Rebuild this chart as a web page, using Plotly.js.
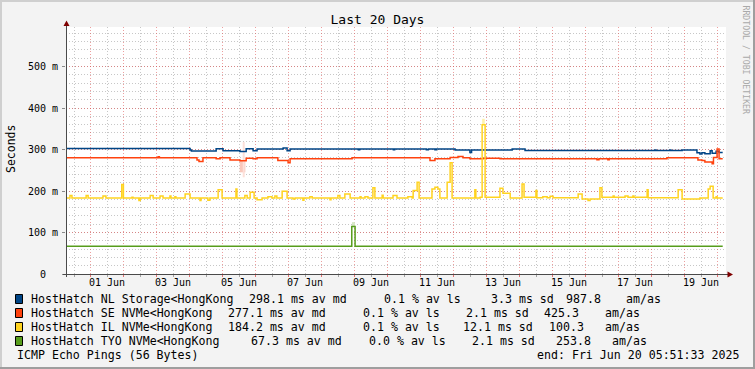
<!DOCTYPE html>
<html><head><meta charset="utf-8">
<script src="https://cdn.plot.ly/plotly-3.0.1.min.js"></script>
<style>html,body{margin:0;padding:0;background:#f3f3f3;overflow:hidden}#chart{width:755px;height:369px}</style>
</head><body><div id="chart"></div>
<script>
// ---------------- data (x = day of June 2025, fractional; y = milliseconds) ----------------
const seriesNames = ['HostHatch NL Storage<HongKong','HostHatch SE NVMe<HongKong','HostHatch IL NVMe<HongKong','HostHatch TYO NVMe<HongKong'];
const seriesColors = ['#004586','#ff420e','#ffd320','#579d1c'];
const avgMedian = [298.1, 277.1, 184.2, 67.3];
const avgLoss = [0.1, 0.1, 0.1, 0.0];
const stdDev = [3.3, 2.1, 12.1, 2.1];
const amAs = [987.8, 425.3, 100.3, 253.8];

const nlDays = [0.25,4.01,4.05,4.80,5.01,5.52,5.71,5.92,6.04,6.83,6.95,7.04,9.11,9.15,10.17,10.21,11.17,11.23,11.43,11.47,12.04,12.49,12.54,13.77,14.16,18.10,18.13,18.55,18.58,18.92,19.37,19.46,19.52,19.61,19.77,19.83,19.95,20.04,20.15];
const nlMs   = [302.5,299,296.5,302,297,295,302,297,301.5,303.5,297,301.5,299.5,301.5,299.5,301.5,299.5,301.5,299.5,301.5,299,293,299,301.5,297.5,299,297.5,299,297.5,299,292,289,292,290,297,291,296,293,293];

const seDays = [0.25,3.04,3.08,4.22,4.28,4.40,4.80,4.92,5.22,5.52,5.71,5.92,6.04,6.67,6.98,7.04,8.92,11.28,11.43,11.89,12.13,12.28,12.49,12.89,13.40,13.71,16.34,16.40,16.67,16.71,18.46,19.40,19.52,19.61,19.83,19.87,19.98,20.04,20.15];
const seMs   = [280,282.5,280,275,271,280,278,280,275,273,279,278,280,273.5,268,277.5,280,273.5,277.5,281,283,280,277.5,279,278,277.5,275.5,277.5,275.5,277.5,280,275,273.5,270,265.5,281,301.5,277.5,277.5];

const ilDays = [0.25,0.37,0.43,0.86,0.92,1.37,1.46,1.94,1.99,2.25,2.28,2.46,2.50,2.80,2.89,3.10,3.19,3.40,3.43,3.55,3.58,3.86,4.01,4.31,4.34,4.55,4.61,4.86,4.98,5.40,5.43,5.67,5.74,5.83,5.95,6.04,6.19,6.37,6.49,6.58,6.64,6.80,6.95,7.13,7.19,7.43,7.46,7.64,7.71,8.25,8.28,8.49,8.55,8.70,8.86,9.16,9.19,9.31,9.40,9.55,9.61,9.83,9.86,10.16,10.28,10.61,10.74,10.77,10.89,10.95,11.34,11.43,11.52,11.58,11.80,11.89,11.95,12.64,12.67,12.80,12.86,12.95,13.40,13.49,13.71,14.07,14.13,14.49,14.52,14.70,14.83,14.92,15.01,15.77,15.89,16.07,16.13,16.43,16.49,16.83,16.86,17.19,17.28,17.43,17.46,17.86,17.89,18.80,18.92,19.46,19.71,19.77,19.86,19.95,19.98,20.15];
const ilMs   = [183,189,183,189,183,188,183,215.7,183,185,183,177,183,189,183,188,183,188,183,186,183,193,183,177,183,178,183,203,183,205,183,189,183,197,183,179,183,186,183,188,183,199.5,183,181,183,178,183,186,183,179,183,189,183,193,183,186,183,186,183,207.7,183,190,183,189,183,186,183,201,221,183,205,209,205,183,221,268,183,203,183,185,359.5,185,206.7,194.7,183,217,185,201,184,186,184,187.5,184,193,181,177,181,207.7,185,188,185,188,185,188,185,203,184,203,181,183,205,211.6,183,186,183,183];

const tyoDays = [0.25,8.91,9.01,20.15];
const tyoMs   = [67,114.5,67,67];

// "smoke" (spread of the pings) patches: centre day, width in days, bottom ms, top ms
const smokeDay    = [5.60, 5.635, 12.90, 8.96];
const smokeWidth  = [0.17, 0.06, 0.08, 0.09];
const smokeLow    = [245, 233, 359, 114.5];
const smokeHigh   = [273, 318, 374, 125];
const smokeColor  = ['#f9c8bc', '#fde0d9', '#fff1ad', '#d6e8c6'];

const dayLabels   = ['01 Jun','03 Jun','05 Jun','07 Jun','09 Jun','11 Jun','13 Jun','15 Jun','17 Jun','19 Jun'];
const dayLabelAt  = [1.5,3.5,5.5,7.5,9.5,11.5,13.5,15.5,17.5,19.5];
const yTickVals   = [0,0.1,0.2,0.3,0.4,0.5];
const yTickText   = ['0\u00a0\u00a0','100 m','200 m','300 m','400 m','500 m'];
const titleText = 'Last 20 Days';
const footLeft = 'ICMP Echo Pings (56 Bytes)';
const footRight = 'end: Fri Jun 20 05:51:33 2025';
const watermark = 'RRDTOOL / TOBI OETIKER';

// ---------------- helpers ----------------
const MONO = 'DejaVu Sans Mono';
function dayToDate(d){ return new Date(Date.UTC(2025,4,31) + d*86400000).toISOString().replace('T',' ').slice(0,19); }
const W = 755, H = 369, L = 66, T = 27, PW = 660, PH = 247;
const PX = x => (x - L) / PW;
const PY = y => (T + PH - y) / PH;

const traces = [];
traces.push({
  type:'bar', x: smokeDay.map(dayToDate), y: smokeHigh.map((h,i)=>(h-smokeLow[i])/1000),
  base: smokeLow.map(v=>v/1000), width: smokeWidth.map(w=>w*86400000),
  marker:{color:smokeColor, line:{width:0}}, hoverinfo:'skip', showlegend:false
});
const sets = [[nlDays,nlMs],[seDays,seMs],[ilDays,ilMs],[tyoDays,tyoMs]];
sets.forEach((s,i)=>{
  traces.push({type:'scatter', mode:'lines', x:s[0].map(dayToDate), y:s[1].map(v=>v/1000),
    line:{shape:'hv', color:seriesColors[i], width:1.5}, hoverinfo:'skip', showlegend:false});
});

const shapes = [];
// frame shading
shapes.push({type:'rect', xref:'paper', yref:'paper', x0:PX(0), x1:PX(W), y0:PY(0), y1:PY(2), fillcolor:'#cfcfcf', line:{width:0}, layer:'above'});
shapes.push({type:'rect', xref:'paper', yref:'paper', x0:PX(0), x1:PX(2), y0:PY(0), y1:PY(H), fillcolor:'#cfcfcf', line:{width:0}, layer:'above'});
shapes.push({type:'rect', xref:'paper', yref:'paper', x0:PX(0), x1:PX(W), y0:PY(H-2), y1:PY(H), fillcolor:'#9e9e9e', line:{width:0}, layer:'above'});
shapes.push({type:'rect', xref:'paper', yref:'paper', x0:PX(W-2), x1:PX(W), y0:PY(0), y1:PY(H), fillcolor:'#9e9e9e', line:{width:0}, layer:'above'});
// axes
shapes.push({type:'line', xref:'paper', yref:'paper', x0:PX(66.5), x1:PX(66.5), y0:PY(277), y1:PY(24), line:{color:'#4a4a4a', width:1}, layer:'above'});
shapes.push({type:'line', xref:'paper', yref:'paper', x0:PX(63), x1:PX(729), y0:PY(274.5), y1:PY(274.5), line:{color:'#4a4a4a', width:1}, layer:'above'});
shapes.push({type:'path', xref:'paper', yref:'paper', path:`M ${PX(66.5)} ${PY(20.5)} L ${PX(63.5)} ${PY(26)} L ${PX(69.5)} ${PY(26)} Z`, fillcolor:'#7f0000', line:{width:0}, layer:'above'});
shapes.push({type:'path', xref:'paper', yref:'paper', path:`M ${PX(733)} ${PY(274.5)} L ${PX(727.5)} ${PY(271.5)} L ${PX(727.5)} ${PY(277.5)} Z`, fillcolor:'#7f0000', line:{width:0}, layer:'above'});

const annotations = [];
// x labels
dayLabels.forEach((t,i)=>annotations.push({xref:'x', yref:'paper', x:dayToDate(dayLabelAt[i]), y:PY(282.7), text:t, showarrow:false, xanchor:'center', yanchor:'middle', font:{family:MONO, size:10, color:'#000'}}));
// y title
annotations.push({xref:'paper', yref:'paper', x:PX(10.5), y:PY(149.5), text:'Seconds', textangle:-90, showarrow:false, xanchor:'center', yanchor:'middle', font:{family:MONO, size:11.5, color:'#000'}});
// watermark
annotations.push({xref:'paper', yref:'paper', x:PX(745.5), y:PY(60), text:watermark, textangle:90, showarrow:false, xanchor:'center', yanchor:'middle', font:{family:MONO, size:8.2, color:'#a9a9a9'}});

// legend
const rowY = [299, 313, 327, 341];
const colX = [
  [30.7, 249.3, 384.3, 491, 565.7, 625.7],
  [30.7, 228.3, 362.7, 465.7, 544.3, 605],
  [30.7, 228.3, 362.7, 463.3, 549, 605],
  [30.7, 250.7, 368.5, 472.3, 556, 612.3]
];
const LF = 11.6, PAD = 2;
seriesNames.forEach((n,i)=>{
  shapes.push({type:'rect', xref:'paper', yref:'paper', x0:PX(15.5), x1:PX(22.5), y0:PY(rowY[i]+4.5), y1:PY(rowY[i]-4.5), fillcolor:seriesColors[i], line:{color:'#000', width:1}, layer:'above'});
  const parts = [n, avgMedian[i].toFixed(1)+' ms av md', avgLoss[i].toFixed(1)+' % av ls', stdDev[i].toFixed(1)+' ms sd', amAs[i].toFixed(1), 'am/as'];
  parts.forEach((p,j)=>annotations.push({xref:'paper', yref:'paper', x:PX(colX[i][j]-PAD), y:PY(rowY[i]), text:p, showarrow:false, xanchor:'left', yanchor:'middle', font:{family:MONO, size:LF, color:'#000'}}));
});
annotations.push({xref:'paper', yref:'paper', x:PX(16.7-PAD), y:PY(355), text:footLeft, showarrow:false, xanchor:'left', yanchor:'middle', font:{family:MONO, size:LF, color:'#000'}});
annotations.push({xref:'paper', yref:'paper', x:PX(536.7-PAD), y:PY(355), text:footRight, showarrow:false, xanchor:'left', yanchor:'middle', font:{family:MONO, size:LF, color:'#000'}});

const layout = {
  width:W, height:H, margin:{l:L, r:W-L-PW, t:T, b:H-T-PH, pad:0},
  paper_bgcolor:'#f3f3f3', plot_bgcolor:'#ffffff',
  title:{text:titleText, x:0.5, xref:'container', xanchor:'center', y:1-19.5/H, yref:'container', yanchor:'middle', font:{family:MONO, size:13, color:'#000'}},
  barmode:'overlay', showlegend:false,
  xaxis:{type:'date', range:[dayToDate(0.25), dayToDate(20.25)], tick0:dayToDate(1), dtick:86400000,
    showticklabels:false, showgrid:true, gridcolor:'rgba(222,80,80,0.55)', griddash:'1px,2px', gridwidth:1,
    ticks:'outside', ticklen:2, tickcolor:'rgba(222,80,80,0.8)', zeroline:false, showline:false, fixedrange:true,
    minor:{tick0:dayToDate(1), dtick:43200000, showgrid:true, gridcolor:'rgba(143,143,143,0.5)', griddash:'1px,2px', gridwidth:1, ticks:'outside', ticklen:2, tickcolor:'rgba(143,143,143,0.8)'}},
  yaxis:{range:[0, PH/415], tickmode:'array', tickvals:yTickVals, ticktext:yTickText,
    showgrid:true, gridcolor:'rgba(222,80,80,0.55)', griddash:'1px,2px', gridwidth:1,
    ticks:'outside', ticklen:3, tickcolor:'#8a8a8a', zeroline:false, showline:false, fixedrange:true,
    tickfont:{family:MONO, size:10, color:'#000'}, ticklabelstandoff:2,
    minor:{tickmode:'linear', tick0:0, dtick:0.02, showgrid:true, gridcolor:'rgba(143,143,143,0.5)', griddash:'1px,2px', gridwidth:1}},
  shapes:shapes, annotations:annotations
};
Plotly.newPlot('chart', traces, layout, {staticPlot:true, displayModeBar:false});
</script>
</body></html>
